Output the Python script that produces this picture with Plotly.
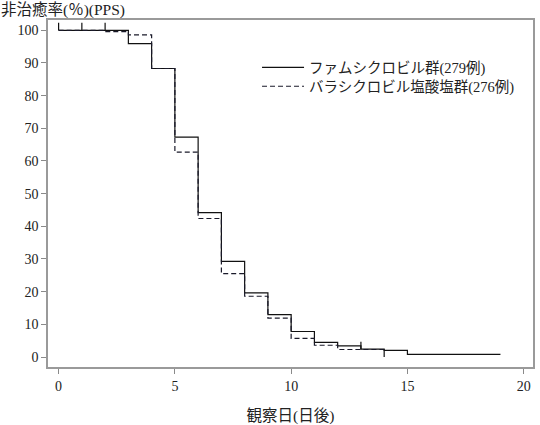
import plotly.graph_objects as go

# Data
fam_days = [0, 3, 4, 5, 6, 7, 8, 9, 10, 11, 12, 13, 14, 15, 19]
fam_rate = [100, 95.9, 88.3, 67.3, 44.2, 29.3, 19.6, 13.0, 7.8, 4.5, 3.4, 2.4, 2.0, 0.8, 0.8]
val_days = [0, 2, 3, 4, 5, 6, 7, 8, 9, 10, 11, 12, 14]
val_rate = [100, 99.6, 98.6, 88.3, 62.7, 42.4, 25.5, 18.6, 11.9, 5.7, 3.6, 2.3, 2.3]
fam_censor_days = [0, 1, 2, 13]
fam_censor_rate = [100, 100, 100, 2.4]
val_censor_days = [14]
val_censor_rate = [2.3]
x_ticks = [0, 5, 10, 15, 20]
y_ticks = [0, 10, 20, 30, 40, 50, 60, 70, 80, 90, 100]
fam_name = "ファムシクロビル群(279例)"
val_name = "バラシクロビル塩酸塩群(276例)"

FONT = "Liberation Serif, Noto Sans CJK JP"
TICK = 2.3

fig = go.Figure()
fig.add_trace(go.Scatter(x=fam_days, y=fam_rate, mode="lines", line_shape="hv",
                         line=dict(color="#111111", width=1.2), name=fam_name,
                         legend="legend"))
fig.add_trace(go.Scatter(x=val_days, y=val_rate, mode="lines", line_shape="hv",
                         line=dict(color="#1a1a2a", width=1.2, dash="5px,3px"), name=val_name,
                         legend="legend2"))
fig.add_trace(go.Scatter(x=fam_censor_days, y=fam_censor_rate, mode="markers",
                         marker=dict(size=1, opacity=0), showlegend=False, hoverinfo="skip",
                         error_y=dict(type="data", symmetric=False,
                                      array=[TICK] * len(fam_censor_days),
                                      arrayminus=[0] * len(fam_censor_days),
                                      width=0, thickness=1.2, color="#111111")))
fig.add_trace(go.Scatter(x=val_censor_days, y=val_censor_rate, mode="markers",
                         marker=dict(size=1, opacity=0), showlegend=False, hoverinfo="skip",
                         error_y=dict(type="data", symmetric=False,
                                      array=[0] * len(val_censor_days),
                                      arrayminus=[TICK] * len(val_censor_days),
                                      width=0, thickness=1.2, color="#111111")))

axis_common = dict(showgrid=False, zeroline=False, showline=True, mirror=True,
                   linecolor="#9a9a9a", linewidth=1.5, ticks="outside", ticklen=5,
                   tickcolor="#8a8a8a", tickwidth=1.2, automargin=False,
                   tickfont=dict(family=FONT, size=14, color="#222"))

legend_common = dict(xanchor="left", yanchor="top", bgcolor="rgba(0,0,0,0)",
                     font=dict(family=FONT, size=14.5, color="#222"), itemwidth=42)

fig.update_layout(
    width=540, height=425,
    margin=dict(l=48, r=7, t=20, b=58, autoexpand=False),
    paper_bgcolor="white", plot_bgcolor="white",
    font=dict(family=FONT, size=14, color="#222"),
    title=dict(text="非治癒率(％)(PPS)", x=0.0, xref="container", xanchor="left",
               y=0.99, yref="container", yanchor="top",
               font=dict(family=FONT, size=15.5, color="#222"), pad=dict(l=1, t=0)),
    xaxis=dict(range=[-0.456, 20.4], tickvals=x_ticks,
               title=dict(text="観察日(日後)", font=dict(family=FONT, size=15.5, color="#222"),
                          standoff=19),
               **axis_common),
    yaxis=dict(range=[-3.06, 103.15], tickvals=y_ticks, **axis_common),
    legend=dict(x=0.431, y=0.9095, **legend_common),
    legend2=dict(x=0.431, y=0.855, **legend_common),
    showlegend=True,
)

fig.write_html("out.html", config={"displayModeBar": False},
               post_script="document.body.style.margin='0px';")
